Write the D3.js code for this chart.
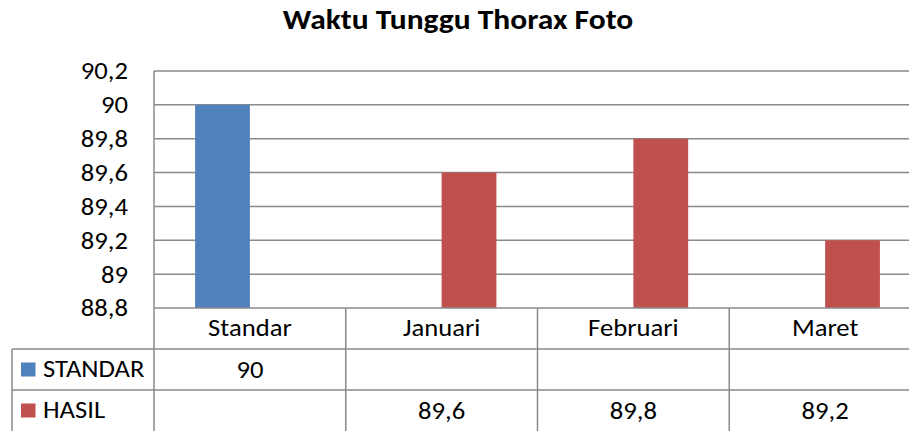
<!DOCTYPE html>
<html><head><meta charset="utf-8">
<script src="https://cdn.jsdelivr.net/npm/d3@7"></script>
<style>
html,body{margin:0;padding:0;background:#fff;overflow:hidden;}
svg{display:block;font-family:Carlito,Calibri,Lato,sans-serif;}
</style></head><body>
<svg id="c" width="909" height="431"></svg>
<script>
const title = "Waktu Tunggu Thorax Foto";
const categories = ["Standar","Januari","Februari","Maret"];
const seriesNames = ["STANDAR","HASIL"];
const standarValues = [90, null, null, null];
const hasilValues = [null, 89.6, 89.8, 89.2];
const tickValues = [88.8, 89, 89.2, 89.4, 89.6, 89.8, 90, 90.2];
const tickLabels = ["88,8","89","89,2","89,4","89,6","89,8","90","90,2"];
const colors = ["#4F81BD","#C0504D"];

(function(){
const series = [standarValues, hasilValues];
const fmt = v => String(v).replace(".", ",");
const SX = 1.11;
const tr = (x, y) => `translate(${x},${y}) scale(${SX},1)`;

const svg = d3.select("#c");
const pLeft = 154, pRight = 921, pTop = 71, pBottom = 308;
const rowTops = [308, 349, 390, 431];
const tableLeft = 12;
const fs = 24;

const y = d3.scaleLinear().domain([88.8, 90.2]).range([pBottom, pTop]);
const x = d3.scaleBand().domain(categories).range([pLeft, pRight]).paddingInner(0).paddingOuter(0);
const bw = x.bandwidth() / 3.5;
const xs = d3.scaleBand().domain(seriesNames).range([0.75*bw, 2.75*bw]).padding(0);

svg.append("text").attr("transform", tr(458, 29)).attr("text-anchor","middle")
  .attr("font-size", 28.4).attr("font-weight","bold").attr("fill","#000").text(title);

const gridColor = "#8a8a8a";
svg.append("g").selectAll("line").data(tickValues.slice(1)).join("line")
  .attr("x1", pLeft).attr("x2", pRight)
  .attr("y1", d => y(d)).attr("y2", d => y(d))
  .attr("stroke", gridColor).attr("stroke-width", 1.5);

svg.append("g").selectAll("text").data(tickValues).join("text")
  .attr("transform", d => tr(128, y(d))).attr("dy","0.35em")
  .attr("text-anchor","end").attr("font-size", fs).attr("fill","#000")
  .text((d,i) => tickLabels[i]);

series.forEach((vals, si) => {
  svg.append("g").selectAll("rect").data(categories.map((c,i)=>({c, v: vals[i]})).filter(d=>d.v!=null))
    .join("rect")
    .attr("x", d => x(d.c) + xs(seriesNames[si]))
    .attr("width", xs.bandwidth())
    .attr("y", d => y(d.v))
    .attr("height", d => pBottom - y(d.v))
    .attr("fill", colors[si]);
});

const tl = svg.append("g").attr("stroke", gridColor).attr("stroke-width", 1.5);
tl.append("line").attr("x1", pLeft).attr("x2", pLeft).attr("y1", pTop).attr("y2", 431);
tl.append("line").attr("x1", pLeft).attr("x2", pRight).attr("y1", rowTops[0]).attr("y2", rowTops[0]);
[1,2].forEach(r => tl.append("line").attr("x1", tableLeft).attr("x2", pRight).attr("y1", rowTops[r]).attr("y2", rowTops[r]));
tl.append("line").attr("x1", tableLeft).attr("x2", tableLeft).attr("y1", rowTops[1]).attr("y2", 431);
categories.slice(1).forEach(c => tl.append("line").attr("x1", x(c)).attr("x2", x(c)).attr("y1", rowTops[0]).attr("y2", 431));

svg.append("g").selectAll("text").data(categories).join("text")
  .attr("transform", d => tr(x(d) + x.bandwidth()/2, (rowTops[0]+rowTops[1])/2)).attr("dy","0.33em")
  .attr("text-anchor","middle").attr("font-size", fs).attr("fill","#000").text(d => d);

seriesNames.forEach((name, si) => {
  const cy = (rowTops[si+1] + rowTops[si+2]) / 2;
  svg.append("rect").attr("x", 21).attr("y", cy - 7).attr("width", 14.5).attr("height", 14).attr("fill", colors[si]);
  svg.append("text").attr("transform", tr(43, cy)).attr("dy","0.33em").attr("font-size", fs).attr("fill","#000").text(name);
  svg.append("g").selectAll("text").data(categories.map((c,i)=>({c, v: series[si][i]})).filter(d=>d.v!=null))
    .join("text")
    .attr("transform", d => tr(x(d.c) + x.bandwidth()/2, cy)).attr("dy","0.35em")
    .attr("text-anchor","middle").attr("font-size", fs).attr("fill","#000").text(d => fmt(d.v));
});
})();
</script></body></html>
